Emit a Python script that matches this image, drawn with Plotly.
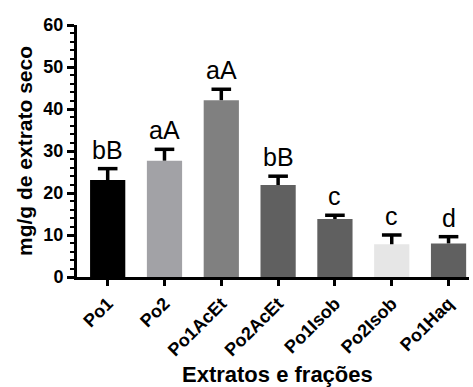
import plotly.graph_objects as go

# Extract / fraction names and measured contents (mg/g of dry extract)
categories = ["Po1", "Po2", "Po1AcEt", "Po2AcEt", "Po1Isob", "Po2Isob", "Po1Haq"]
values = [23.1, 27.7, 42.1, 21.9, 13.8, 7.8, 8.0]
errors = [2.7, 2.7, 2.6, 2.1, 0.9, 2.2, 1.6]
letters = ["bB", "aA", "aA", "bB", "c", "c", "d"]
bar_colors = ["#000000", "#a2a2a6", "#808080", "#606060", "#606060", "#e6e6e6", "#606060"]

FONT = "Arial, Liberation Sans, sans-serif"

fig = go.Figure()
fig.add_trace(go.Bar(
    x=categories,
    y=values,
    marker=dict(color=bar_colors, line=dict(width=0)),
    width=0.62,
    showlegend=False,
))

# upper error bars: stem from bar top to mean + SD, capped with a horizontal tick
stem_x, stem_y = [], []
for c, v, e in zip(categories, values, errors):
    stem_x += [c, c, None]
    stem_y += [v, v + e, None]
fig.add_trace(go.Scatter(
    x=stem_x, y=stem_y, mode="lines",
    line=dict(color="black", width=3.5), showlegend=False, hoverinfo="skip",
))
fig.add_trace(go.Scatter(
    x=categories, y=[v + e for v, e in zip(values, errors)], mode="markers",
    marker=dict(symbol="line-ew", size=14, line=dict(color="black", width=3.5)),
    showlegend=False, hoverinfo="skip",
))

# significance letters above each error bar
for c, v, e, t in zip(categories, values, errors, letters):
    fig.add_annotation(x=c, y=v + e, text=t, showarrow=False,
                       yanchor="bottom", yshift=3,
                       font=dict(family=FONT, size=25, color="black"))

# x-axis title, set below the rotated category labels
fig.add_annotation(xref="paper", yref="paper", x=0.511, y=-0.385,
                   xanchor="center", yanchor="middle", showarrow=False,
                   text="<b>Extratos e frações</b>",
                   font=dict(family=FONT, size=22, color="black"))

fig.update_layout(
    width=473, height=387,
    margin=dict(l=77, r=4, t=25, b=110),
    plot_bgcolor="white", paper_bgcolor="white",
    font=dict(family=FONT, color="black"),
    xaxis=dict(
        range=[-0.54, 6.36],
        automargin=False,
        showline=True, linecolor="black", linewidth=3,
        ticks="outside", ticklen=6, tickwidth=2.5, tickcolor="black",
        tickangle=-45,
        tickfont=dict(family=FONT, size=18, color="black", weight="bold"),
        showgrid=False, zeroline=False,
    ),
    yaxis=dict(
        range=[0, 60],
        automargin=False,
        tickvals=[0, 10, 20, 30, 40, 50, 60],
        showline=True, linecolor="black", linewidth=3,
        ticks="outside", ticklen=7, tickwidth=2.5, tickcolor="black",
        minor=dict(dtick=2, ticks="outside", ticklen=4, tickwidth=2, tickcolor="black"),
        tickfont=dict(family=FONT, size=18, color="black", weight="bold"),
        title=dict(text="<b>mg/g de extrato seco</b>", standoff=6,
                   font=dict(family=FONT, size=21, color="black")),
        showgrid=False, zeroline=False,
    ),
)

fig.write_html("out.html")
